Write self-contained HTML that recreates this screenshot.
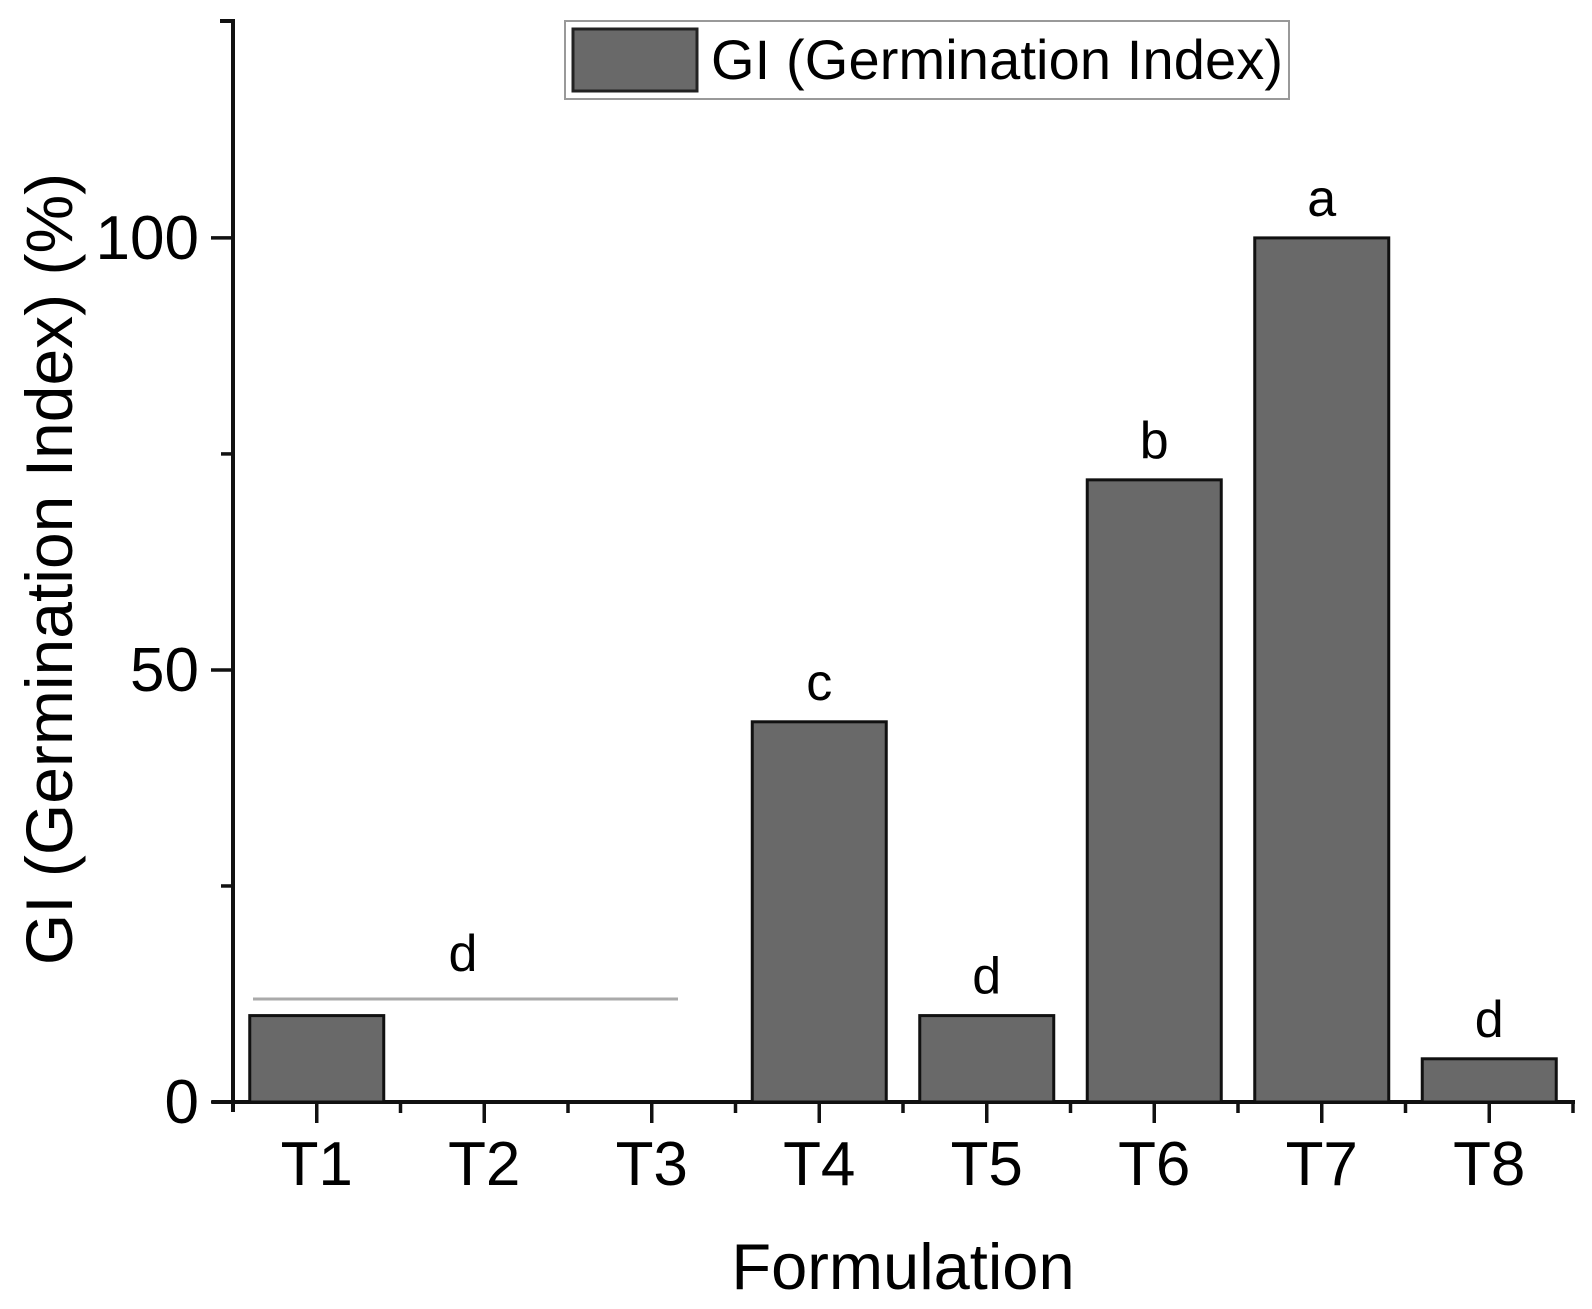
<!DOCTYPE html>
<html><head><meta charset="utf-8"><style>
body{margin:0;background:#fff;}
svg{display:block;font-family:"Liberation Sans",Arial,sans-serif;}
</style></head><body>
<svg id="chart" width="1592" height="1309" viewBox="0 0 1592 1309">
<g id="ticks"></g>
<g id="bars"></g>
<g id="letters"></g>
<line x1="253" y1="999" x2="678" y2="999" stroke="#aaa" stroke-width="3"/>
<text x="463" y="971" font-size="52" text-anchor="middle">d</text>
<text transform="translate(72,569) rotate(-90)" font-size="66" text-anchor="middle">GI (Germination Index) (%)</text>
<text x="903" y="1289" font-size="65" text-anchor="middle">Formulation</text>
<g>
<rect x="565" y="21" width="724" height="78" fill="#fff" stroke="#999" stroke-width="2"/>
<rect x="573" y="29" width="124" height="62" fill="#696969" stroke="#222" stroke-width="3"/>
<text x="711" y="79" font-size="56" textLength="572">GI (Germination Index)</text>
</g>
</svg>
<script>
const categories=["T1","T2","T3","T4","T5","T6","T7","T8"];
const values=[10,0,0,44,10,72,100,5];
const letters=["","","","c","d","b","a","d"];
const yTicks=[0,50,100];
const yMinor=[25,75];
const X0=233,X1=1573,Y0=1102,Y1=21,YMAX=125.1;
const sx=i=>X0+(i+0.5)*(X1-X0)/categories.length;
const sy=v=>Y0-v*(Y0-Y1)/YMAX;
const NS="http://www.w3.org/2000/svg";
function mk(t,a,p){const e=document.createElementNS(NS,t);for(const k in a)e.setAttribute(k,a[k]);p.appendChild(e);return e;}
const bars=document.getElementById('bars'),let_=document.getElementById('letters'),tk=document.getElementById('ticks');
const bw=(X1-X0)/categories.length*0.8;
categories.forEach((c,i)=>{
  if(values[i]>0){
    const r=mk('rect',{x:sx(i)-bw/2,y:sy(values[i]),width:bw,height:Y0-sy(values[i]),fill:'#696969',stroke:'#111','stroke-width':3},bars);
    
    
  }
  if(letters[i]){
    const t=mk('text',{x:sx(i),y:sy(values[i])-22,'font-size':52,'text-anchor':'middle'},let_);
    t.textContent=letters[i];
    
    
  }
  const l=mk('line',{x1:sx(i),y1:Y0,x2:sx(i),y2:Y0+21,stroke:'#111','stroke-width':3.5},tk);
  
  
  const m=mk('line',{x1:sx(i)+(X1-X0)/16,y1:Y0,x2:sx(i)+(X1-X0)/16,y2:Y0+11,stroke:'#111','stroke-width':3.5},tk);
  
  
  const t=mk('text',{x:sx(i),y:1185,'font-size':62,'text-anchor':'middle'},tk);
  t.textContent=c;
  
  
});
yTicks.forEach(v=>{
  const l=mk('line',{x1:X0-22,y1:sy(v),x2:X0,y2:sy(v),stroke:'#111','stroke-width':3.5},tk);
  
  
  const t=mk('text',{x:199,y:sy(v)+21,'font-size':62,'text-anchor':'end'},tk);
  t.textContent=v;
  
  
});
yMinor.forEach(v=>{
  const l=mk('line',{x1:X0-12,y1:sy(v),x2:X0,y2:sy(v),stroke:'#111','stroke-width':3.5},tk);
  
  
});
const xa=mk('line',{x1:212,y1:Y0,x2:X1+2,y2:Y0,stroke:'#111','stroke-width':4},tk);


const ya=mk('path',{d:`M${X0-13},${Y1} H${X0} V${Y0+10}`,fill:'none',stroke:'#111','stroke-width':4},tk);


</script>
</body></html>
